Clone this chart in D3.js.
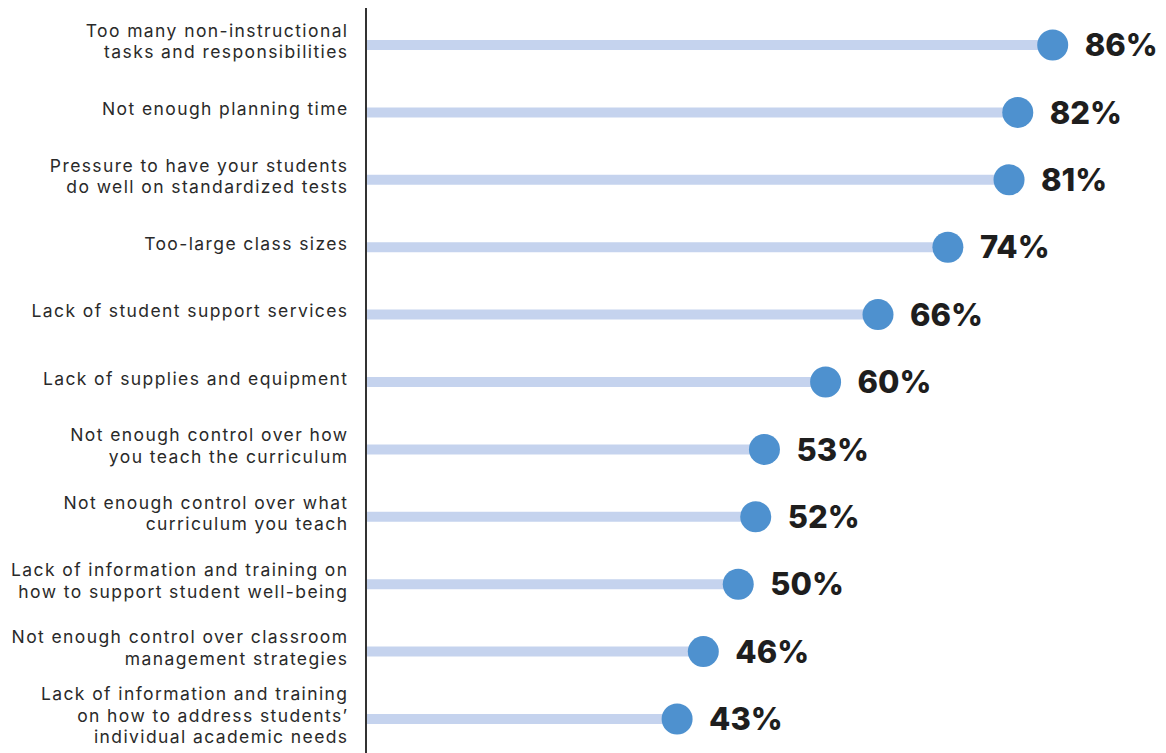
<!DOCTYPE html>
<html>
<head>
<meta charset="utf-8">
<style>
  html, body { margin: 0; padding: 0; background: #fff; }
</style>
</head>
<body>
<div id="chart"></div>
<script src="https://d3js.org/d3.v7.min.js"></script>
<script>
    // chart data
    var categories = [
        ["Too many non-instructional", "tasks and responsibilities"],
        ["Not enough planning time"],
        ["Pressure to have your students", "do well on standardized tests"],
        ["Too-large class sizes"],
        ["Lack of student support services"],
        ["Lack of supplies and equipment"],
        ["Not enough control over how", "you teach the curriculum"],
        ["Not enough control over what", "curriculum you teach"],
        ["Lack of information and training on", "how to support student well-being"],
        ["Not enough control over classroom", "management strategies"],
        ["Lack of information and training", "on how to address students\u2019", "individual academic needs"]
    ];
    var values = [86, 82, 81, 74, 66, 60, 53, 52, 50, 46, 43];

    var width = 1166, height = 753;
    var axisX = 366;
    var labelRight = 348.5; // letter-spacing leaves a trailing gap
    var lineHeight = 21.5;

    var svg = d3.select("#chart")
        .append("svg")
        .attr("width", width)
        .attr("height", height);

    var x = d3.scaleLinear().domain([0, 100]).range([301.5, 1175]);

    var y = d3.scalePoint()
        .domain(d3.range(values.length))
        .range([45, 719]);

    var rows = svg.selectAll("g.row")
        .data(values)
        .enter().append("g")
        .attr("class", "row")
        .attr("transform", function(d, i) { return "translate(0," + y(i) + ")"; });

    // bars
    rows.append("line")
        .attr("x1", axisX)
        .attr("x2", function(d) { return x(d); })
        .attr("stroke", "#c5d3ee")
        .attr("stroke-width", 10);

    // dots
    rows.append("circle")
        .attr("cx", function(d) { return x(d); })
        .attr("r", 15.5)
        .attr("fill", "#4e91cf");

    // value labels
    rows.append("text")
        .attr("x", function(d) { return x(d) + 32; })
        .attr("dy", "0.36em")
        .attr("font-family", "Inter, 'Noto Sans', sans-serif")
        .attr("font-weight", 800)
        .attr("font-size", 31)
        .attr("fill", "#1e1e1e")
        .text(function(d) { return d + "%"; });

    // category labels
    rows.append("text")
        .attr("text-anchor", "end")
        .attr("font-family", "Inter, 'Noto Sans', sans-serif")
        .attr("font-size", 17.5)
        .attr("letter-spacing", 1.4)
        .attr("fill", "#2a2a2a")
        .each(function(d, i) {
            var lines = categories[i];
            var t = d3.select(this);
            var top = -3.5 - (lines.length - 1) * lineHeight / 2;
            lines.forEach(function(l, k) {
                t.append("tspan")
                    .attr("x", labelRight)
                    .attr("y", top + k * lineHeight)
                    .attr("dy", "0.35em")
                    .text(l);
            });
        });

    // axis line
    svg.append("line")
        .attr("x1", axisX).attr("x2", axisX)
        .attr("y1", 8).attr("y2", height)
        .attr("stroke", "#333")
        .attr("stroke-width", 2);
</script>
</body>
</html>
